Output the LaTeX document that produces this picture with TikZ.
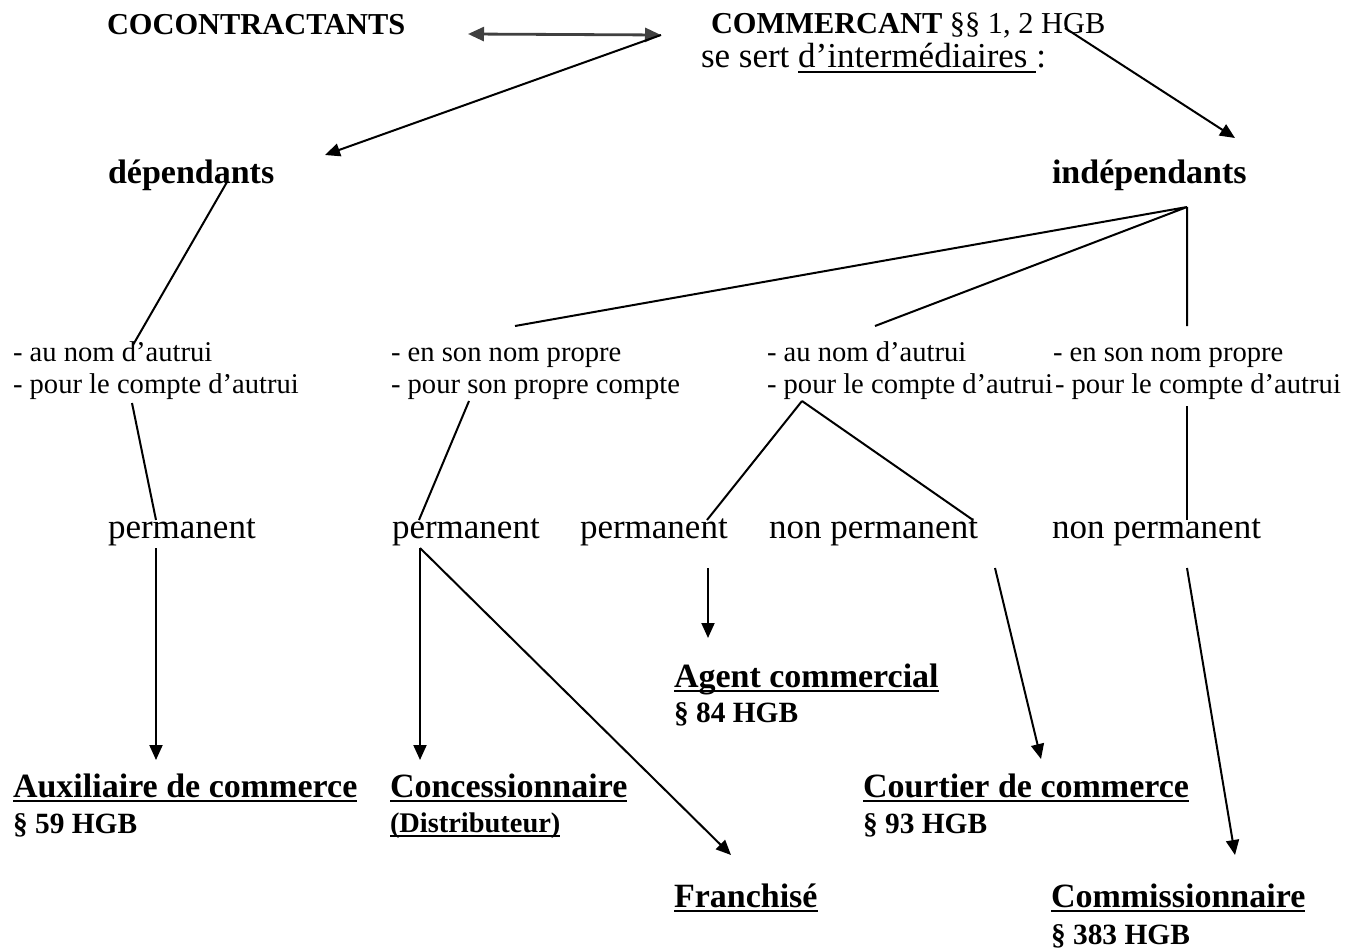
\documentclass[tikz,border=0pt]{standalone}
\usepackage{fontspec}
\setmainfont{Liberation Serif}
\usetikzlibrary{arrows.meta}

\newsavebox{\undlbox}
\newcommand{\undl}[1]{\sbox{\undlbox}{#1}\rlap{\rule[-2.5pt]{\wd\undlbox}{1pt}}\usebox{\undlbox}}

\begin{document}
\begin{tikzpicture}[x=0.5pt,y=-0.5pt,line width=1pt,
                    >={Triangle[length=7.5pt,width=6.5pt]},
                    txt/.style={anchor=base west,inner sep=0pt,font=\fontsize{17.5}{21}\selectfont},
                    dash txt/.style={anchor=base west,inner sep=0pt,font=\fontsize{14.3}{17}\selectfont},
                    head/.style={anchor=base west,inner sep=0pt,font=\fontsize{15.2}{18}\selectfont},
                    title/.style={anchor=base west,inner sep=0pt,font=\fontsize{17}{20}\selectfont\bfseries},
                    ref/.style={anchor=base west,inner sep=0pt,font=\fontsize{14.7}{17}\selectfont\bfseries}]

  \useasboundingbox (0,0) rectangle (1370,952);

  % top
  \node[head] (cocon) at (106,35) {\bfseries COCONTRACTANTS};
  \node[head] (comm)  at (710,34) {\textbf{COMMERCANT} §§ 1, 2 HGB};
  \node[txt]  (sert)  at (700,68) {se sert \undl{d’intermédiaires\ }:};
  \node[title] (dep)   at (107,184) {dépendants};
  \node[title] (indep) at (1051,184) {indépendants};

  % criteria
  \node[dash txt] (a1) at (12,361)   {- au nom d’autrui};
  \node[dash txt] (a2) at (12,393)   {- pour le compte d’autrui};
  \node[dash txt] (b1) at (390,361)  {- en son nom propre};
  \node[dash txt] (b2) at (390,393)  {- pour son propre compte};
  \node[dash txt] (c1) at (766,361)  {- au nom d’autrui};
  \node[dash txt] (c2) at (766,393)  {- pour le compte d’autrui};
  \node[dash txt] (d1) at (1052,361) {- en son nom propre};
  \node[dash txt] (d2) at (1054,393) {- pour le compte d’autrui};

  \node[txt] (perm1)    at (107,538)  {permanent};
  \node[txt] (perm2)    at (391,538)  {permanent};
  \node[txt] (perm3)    at (579,538)  {permanent};
  \node[txt] (nonperm1) at (768,538)  {non permanent};
  \node[txt] (nonperm2) at (1051,538) {non permanent};

  % intermediaries
  \node[title] (agent)     at (673,687) {\undl{Agent commercial}};
  \node[ref]   (agentref)  at (673,722) {§ 84 HGB};
  \node[title] (aux)       at (12,797)  {\undl{Auxiliaire de commerce}};
  \node[ref]   (auxref)    at (12,833)  {§ 59 HGB};
  \node[title] (conc)      at (389,797) {\undl{Concessionnaire}};
  \node[ref,font=\fontsize{14.2}{17}\selectfont\bfseries] (distr) at (389,832) {\undl{(Distributeur)}};
  \node[title] (court)     at (862,797) {\undl{Courtier de commerce}};
  \node[ref]   (courtref)  at (862,833) {§ 93 HGB};
  \node[title] (franch)    at (673,907) {\undl{Franchisé}};
  \node[title] (commis)    at (1050,907) {\undl{Commissionnaire}};
  \node[ref]   (commisref) at (1050,944) {§ 383 HGB};

  % connection points
  \coordinate (cocon-r)     at (468,34);
  \coordinate (comm-l)      at (661,35);
  \coordinate (comm-hgb)    at (1065,28);
  \coordinate (dep-in)      at (325,155);
  \coordinate (indep-in)    at (1235,138);
  \coordinate (dep-out)     at (227,182);
  \coordinate (indep-out)   at (1187,207);
  \coordinate (a1-in)       at (133,345);
  \coordinate (b1-in)       at (515,326);
  \coordinate (c1-in)       at (875,326);
  \coordinate (d1-in)       at (1187,326);
  \coordinate (a2-out)      at (132,403);
  \coordinate (b2-out)      at (469,401);
  \coordinate (c2-out)      at (802,401);
  \coordinate (d2-out)      at (1187,406);
  \coordinate (perm1-in)    at (156,520);
  \coordinate (perm2-in)    at (419,520);
  \coordinate (perm3-in)    at (707,520);
  \coordinate (nonperm1-in) at (973,520);
  \coordinate (nonperm2-in) at (1187,520);
  \coordinate (perm1-out)   at (156,548);
  \coordinate (perm2-out)   at (420,548);
  \coordinate (perm3-out)   at (708,568);
  \coordinate (nonperm1-out) at (995,568);
  \coordinate (nonperm2-out) at (1187,568);
  \coordinate (aux-in)      at (156,760);
  \coordinate (conc-in)     at (420,760);
  \coordinate (franch-in)   at (731,855);
  \coordinate (agent-in)    at (708,638);
  \coordinate (court-in)    at (1041,759);
  \coordinate (commis-in)   at (1235,855);

  \draw[<->,>={Triangle[length=8pt,width=7pt]},line width=1.4pt,black!75] (cocon-r) -- (comm-l);

  \draw[->] (comm-l) -- (dep-in);
  \draw[->] (comm-hgb) -- (indep-in);

  \draw (dep-out) -- (a1-in);
  \draw (indep-out) -- (b1-in)
        (indep-out) -- (c1-in)
        (indep-out) -- (d1-in);

  \draw (a2-out) -- (perm1-in);
  \draw (b2-out) -- (perm2-in);
  \draw (c2-out) -- (perm3-in)
        (c2-out) -- (nonperm1-in);
  \draw (d2-out) -- (nonperm2-in);

  \draw[->] (perm1-out) -- (aux-in);
  \draw[->] (perm2-out) -- (conc-in);
  \draw[->] (perm2-out) -- (franch-in);
  \draw[->] (perm3-out) -- (agent-in);
  \draw[->] (nonperm1-out) -- (court-in);
  \draw[->] (nonperm2-out) -- (commis-in);
\end{tikzpicture}
\end{document}
